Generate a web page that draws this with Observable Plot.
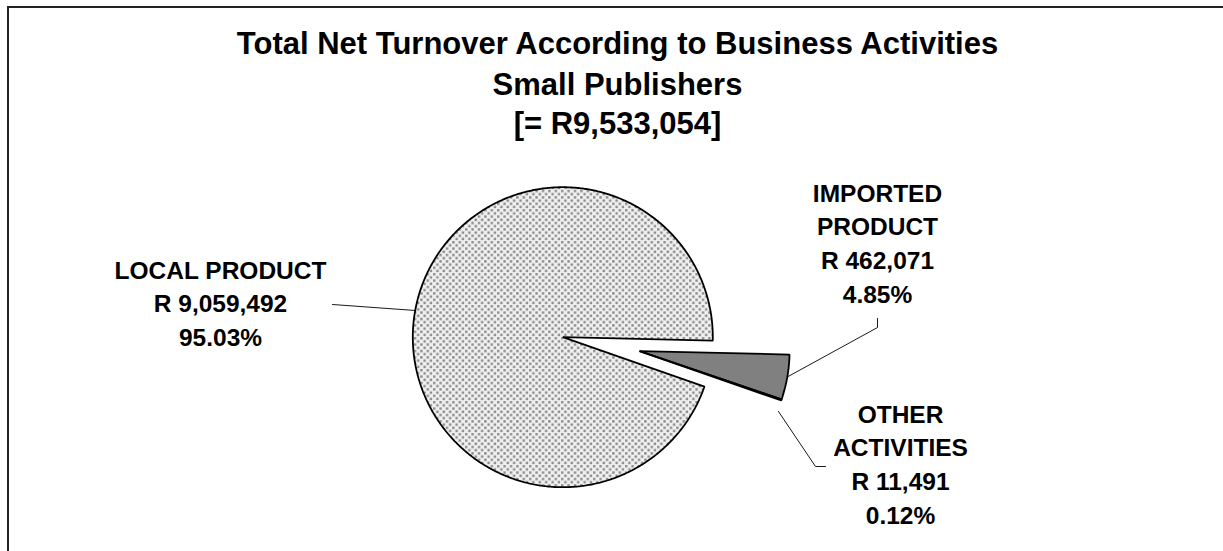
<!DOCTYPE html>
<html>
<head>
<meta charset="utf-8">
<script src="https://cdn.jsdelivr.net/npm/d3@7"></script>
<script src="https://cdn.jsdelivr.net/npm/@observablehq/plot@0.6"></script>
<style>
  html, body { margin: 0; padding: 0; background: #fff; overflow: hidden; }
  #wrap { position: relative; width: 1223px; height: 551px; }
  #frame { position: absolute; left: 7px; top: 6px; width: 1400px; height: 700px;
           border-left: 2px solid #222; border-top: 2px solid #222; pointer-events: none; }
  #chart { position: absolute; left: 0; top: 0; }
</style>
</head>
<body>
<div id="wrap"><div id="chart"></div><div id="frame"></div></div>
<script>
// ---- data ----
const titleLines = ["Total Net Turnover According to Business Activities", "Small Publishers"];
const categories = ["LOCAL PRODUCT", "IMPORTED PRODUCT", "OTHER ACTIVITIES"];
const labelLines = [["LOCAL PRODUCT"], ["IMPORTED", "PRODUCT"], ["OTHER", "ACTIVITIES"]];
const values = [9059492, 462071, 11491];
const currency = "R";

// ---- layout (pixels) ----
const W = 1223, H = 551;
const cx = 562.3, cy = 336.7, R = 150;
const startDeg = 109.2;                    // d3 angle (clockwise from 12 o'clock)
const explode = [0, 0.52, 0.52];           // fraction of radius
const fills = ["url(#dots)", "#808080", "#808080"];
const labelFont = 24.5, lineGap = 33.8;
const labelAnchor = [[220, 278], [877, 201], [900, 422]];  // centre x, first baseline
const titleX = 617, titleFont = 31, titleBase = [53, 94, 133];

const total = d3.sum(values);
const fmtNum = d3.format(",");
const fmtPct = d3.format(".2%");

const arcs = d3.pie().sort(null)
  .startAngle(startDeg * Math.PI / 180)
  .endAngle(startDeg * Math.PI / 180 + 2 * Math.PI)(values);

// exploded slices share the offset of the exploded group bisector
const groupMid = (arcs[1].startAngle + arcs[2].endAngle) / 2;
const pt = (a, r, ox = 0, oy = 0) => ({x: cx + ox + r * Math.sin(a), y: cy + oy - r * Math.cos(a)});

const slicePts = [];
arcs.forEach((a, i) => {
  const off = explode[i] * R;
  const ox = off * Math.sin(groupMid), oy = -off * Math.cos(groupMid);
  const apex = pt(0, 0, ox, oy);
  slicePts.push({...apex, name: categories[i], fill: fills[i]});
  const n = Math.max(2, Math.ceil((a.endAngle - a.startAngle) / (Math.PI / 360)));
  for (let k = 0; k <= n; k++) {
    const ang = a.startAngle + (a.endAngle - a.startAngle) * k / n;
    slicePts.push({...pt(ang, R, ox, oy), name: categories[i], fill: fills[i]});
  }
});

// leader lines: from slice bisector edge to the label
const leaderPts = [];
const mids = arcs.map(a => (a.startAngle + a.endAngle) / 2);
const edge = i => pt(mids[i], R * (1 + explode[i]));
[
  [{x: 332, y: 304}, edge(0)],
  [{x: 877, y: 318}, {x: 877, y: 327}, edge(1)],
  [edge(2), {x: 815, y: 466}, {x: 825, y: 466}]
].forEach((seg, i) => seg.forEach(p => leaderPts.push({...p, name: categories[i]})));

// label text rows
const textRows = [];
categories.forEach((c, i) => {
  const lines = [...labelLines[i], `${currency} ${fmtNum(values[i])}`, fmtPct(values[i] / total)];
  lines.forEach((t, k) => textRows.push({x: labelAnchor[i][0], y: labelAnchor[i][1] + k * lineGap - 0.32 * labelFont, text: t}));
});
const titleRows = [...titleLines, `[= ${currency}${fmtNum(total)}]`]
  .map((t, k) => ({x: titleX, y: titleBase[k] - 0.32 * titleFont, text: t}));

const font = "'Liberation Sans', Arial, Helvetica, sans-serif";
const plot = Plot.plot({
  width: W, height: H, margin: 0,
  style: {background: "transparent", fontFamily: font},
  x: {domain: [0, W], range: [0, W], axis: null},
  y: {domain: [0, H], range: [0, H], axis: null},
  color: {type: "identity"},
  marks: [
    Plot.line(slicePts, {x: "x", y: "y", z: "name", fill: "fill", stroke: "#000", strokeWidth: 1.8, curve: "linear-closed", strokeLinejoin: "miter"}),
    Plot.line(leaderPts, {x: "x", y: "y", z: "name", stroke: "#000", strokeWidth: 0.9}),
    Plot.text(textRows, {x: "x", y: "y", text: "text", fontSize: labelFont, fontWeight: "bold", fill: "#000", textAnchor: "middle"}),
    Plot.text(titleRows, {x: "x", y: "y", text: "text", fontSize: titleFont, fontWeight: "bold", fill: "#000", textAnchor: "middle"})
  ]
});

// dotted fill pattern
const P = 6.4;
const defs = d3.select(plot).insert("defs", ":first-child");
const pat = defs.append("pattern").attr("id", "dots").attr("patternUnits", "userSpaceOnUse")
  .attr("width", P).attr("height", P);
pat.append("rect").attr("width", P).attr("height", P).attr("fill", "#f0f0f0");
[[0.5, 0.5], [3.7, 3.7]].forEach(([x, y]) =>
  pat.append("rect").attr("x", x).attr("y", y).attr("width", 2.4).attr("height", 2.4).attr("fill", "#8a8a8a"));

document.getElementById("chart").appendChild(plot);
</script>
</body>
</html>
